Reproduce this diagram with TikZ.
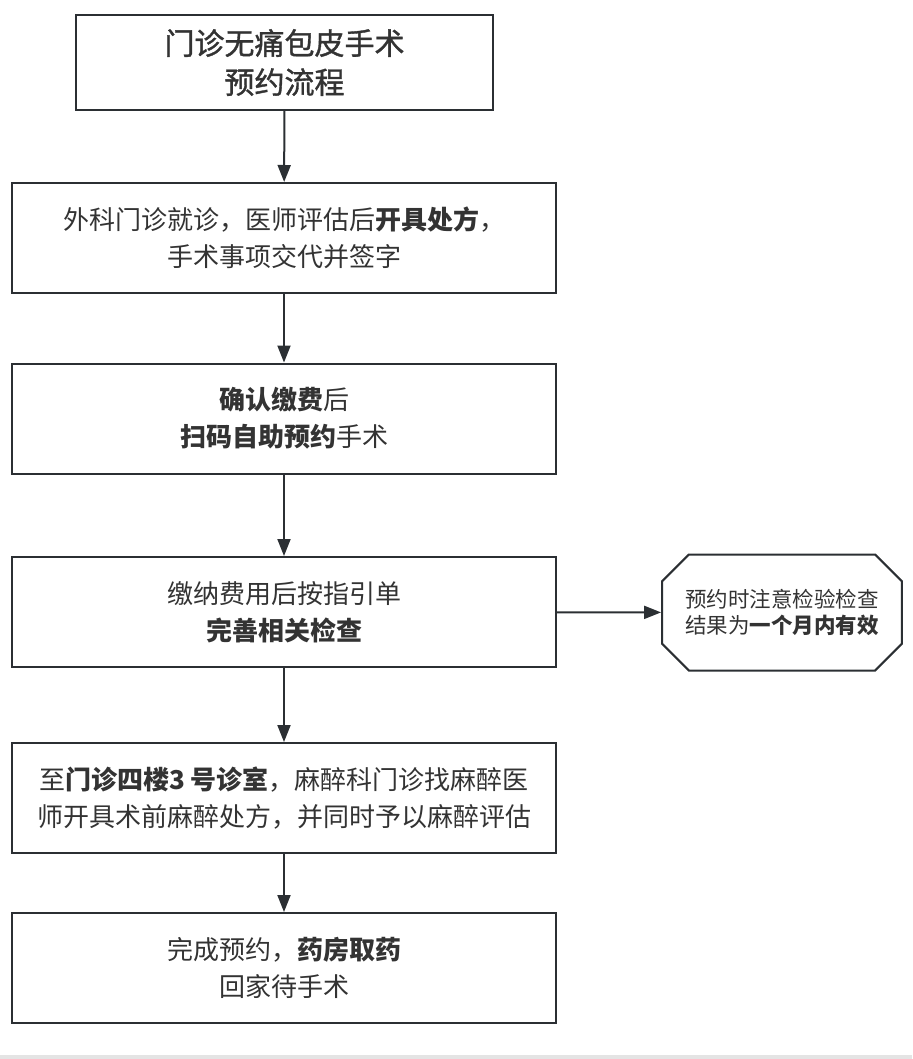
\documentclass[tikz,border=0pt]{standalone}
\usepackage{fontspec}
\setmainfont{Noto Sans CJK SC}
\newfontfamily\titlefont[FakeBold=1.2]{Noto Sans CJK SC}
\usetikzlibrary{arrows.meta,shapes.misc}
\definecolor{linec}{HTML}{2B2F33}
\definecolor{textc}{HTML}{333333}
\definecolor{barc}{HTML}{E4E4E4}
\tikzset{
  stepbox/.style={draw=linec, line width=2pt, rectangle, minimum width=544pt, minimum height=110pt, align=center, text=textc, font=\fontsize{26pt}{37pt}\selectfont, inner sep=0pt},
  titlebox/.style={draw=linec, line width=2pt, rectangle, minimum width=417pt, minimum height=95pt, align=center, text=textc, font=\titlefont\fontsize{30pt}{39pt}\selectfont, inner sep=0pt},
  notebox/.style={draw=linec, line width=2pt, chamfered rectangle, chamfered rectangle xsep=32pt, minimum width=232pt, minimum height=116pt, align=center, text=textc, font=\fontsize{21.5pt}{26pt}\selectfont, inner sep=0pt},
  conn/.style={draw=linec, line width=2pt, -{Triangle[length=17pt,width=13pt]}}
}
\begin{document}
\begin{tikzpicture}[x=1pt,y=-1pt]
\useasboundingbox (0,0) rectangle (912,1059);
\fill[barc] (0,1055) rectangle (912,1059);
\node[titlebox] (t) at (284.5,62.5) {门诊无痛包皮手术\\预约流程};
\node[stepbox] (b1) at (284,238) {外科门诊就诊，医师评估后\textbf{开具处方}，\\手术事项交代并签字};
\node[stepbox] (b2) at (284,418.5) {\textbf{确认缴费}后\\\textbf{扫码自助预约}手术};
\node[stepbox] (b3) at (284,612) {缴纳费用后按指引单\\\textbf{完善相关检查}};
\node[stepbox] (b4) at (284,798) {至\textbf{门诊四楼3 号诊室}，麻醉科门诊找麻醉医\\师开具术前麻醉处方，并同时予以麻醉评估};
\node[stepbox] (b5) at (284,968) {完成预约，\textbf{药房取药}\\回家待手术};
\node[notebox] (n) at (782,612.5) {预约时注意检验检查\\结果为\textbf{一个月内有效}};
\draw[conn] (t) -- (b1);
\draw[conn] (b1) -- (b2);
\draw[conn] (b2) -- (b3);
\draw[conn] (b3) -- (b4);
\draw[conn] (b4) -- (b5);
\draw[conn] (b3) -- (n);
\end{tikzpicture}
\end{document}
